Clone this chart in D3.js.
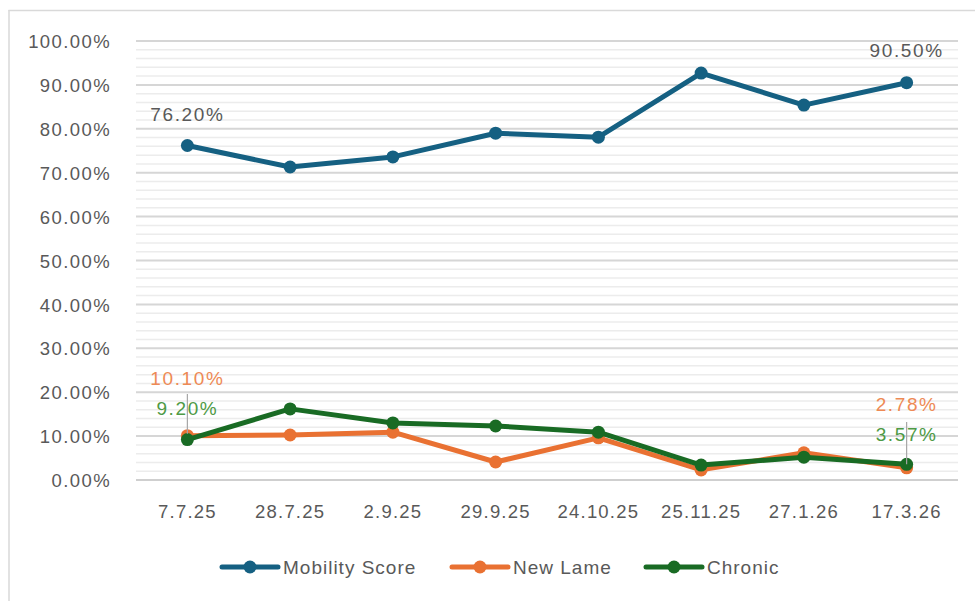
<!DOCTYPE html>
<html><head><meta charset="utf-8">
<script src="https://cdn.jsdelivr.net/npm/d3@7"></script>
<style>body{margin:0;background:#fff}svg{display:block}text{font-family:"Liberation Sans",Arial,sans-serif}</style>
</head><body><svg id="c" width="975" height="601"></svg>
<script>
const categories = ["7.7.25","28.7.25","2.9.25","29.9.25","24.10.25","25.11.25","27.1.26","17.3.26"];
const mobilityScore = [76.2, 71.3, 73.6, 79.0, 78.1, 92.7, 85.4, 90.5];
const newLame = [10.1, 10.25, 10.9, 4.1, 9.6, 2.3, 6.2, 2.78];
const chronic = [9.2, 16.2, 13.0, 12.3, 10.9, 3.4, 5.2, 3.57];
const yTicks = [0,10,20,30,40,50,60,70,80,90,100];
const seriesNames = ["Mobility Score","New Lame","Chronic"];

const svg = d3.select("#c");
const colors = ["#156082","#E97132","#196B24"];
const labelColors = ["#595959","#EE8A55","#4E9A45"];

// frame
svg.append("line").attr("x1",8.5).attr("x2",975).attr("y1",10.5).attr("y2",10.5).attr("stroke","#d9d9d9").attr("stroke-width",1.5);
svg.append("line").attr("x1",9).attr("x2",9).attr("y1",10).attr("y2",601).attr("stroke","#d9d9d9").attr("stroke-width",1.5);

const x = d3.scaleBand().domain(categories).range([136,958]);
const y = d3.scaleLinear().domain([0,100]).range([480,41]);

// minor grid
const minor = d3.range(0,100.001,2).filter(v=>v%10!==0);
svg.append("g").selectAll("line").data(minor).join("line")
  .attr("x1",136).attr("x2",958).attr("y1",d=>y(d)).attr("y2",d=>y(d))
  .attr("stroke","#ececec").attr("stroke-width",1.5);
svg.append("g").selectAll("line").data(yTicks).join("line")
  .attr("x1",136).attr("x2",958).attr("y1",d=>y(d)).attr("y2",d=>y(d))
  .attr("stroke",d=>d===0?"#cfcfcf":"#d6d6d6").attr("stroke-width",2);

// y axis labels
const yAxis = d3.axisLeft(y).tickValues(yTicks).tickFormat(d=>d.toFixed(2)+"%").tickSize(0).tickPadding(0);
const gy = svg.append("g").attr("transform","translate(111,0)").call(yAxis);
gy.select(".domain").remove();
gy.selectAll("text").attr("fill","#595959").style("font-size","18.5px").style("letter-spacing","1.4px").attr("dy","0.36em");

// x axis labels
const xAxis = d3.axisBottom(x).tickSize(0).tickPadding(0);
const gx = svg.append("g").attr("transform","translate(0,505)").call(xAxis);
gx.select(".domain").remove();
gx.selectAll("text").attr("fill","#595959").style("font-size","18.5px").style("letter-spacing","1.2px").attr("dy","0.7em");

const cx = d => x(d) + x.bandwidth()/2;
const all = [mobilityScore,newLame,chronic];
const line = d3.line().x((d,i)=>cx(categories[i])).y(d=>y(d));
[0,1,2].forEach(s=>{
  const g = svg.append("g");
  g.append("path").datum(all[s]).attr("d",line).attr("fill","none")
    .attr("stroke",colors[s]).attr("stroke-width",5).attr("stroke-linejoin","round").attr("stroke-linecap","round");
  g.selectAll("circle").data(all[s]).join("circle")
    .attr("cx",(d,i)=>cx(categories[i])).attr("cy",d=>y(d)).attr("r",6.5).attr("fill",colors[s]);
});

// leader lines
const first = categories[0], last = categories[categories.length-1];
svg.append("line").attr("x1",cx(first)).attr("x2",cx(first)).attr("y1",394).attr("y2",y(newLame[0])-2).attr("stroke","#a6a6a6").attr("stroke-width",1.2);
svg.append("line").attr("x1",cx(last)).attr("x2",cx(last)).attr("y1",422).attr("y2",y(chronic[7])).attr("stroke","#a6a6a6").attr("stroke-width",1.2);

// data labels
const labels = [
  {s:0,i:0,t:"76.20%",yy:114},
  {s:0,i:7,t:"90.50%",yy:50},
  {s:1,i:0,t:"10.10%",yy:378},
  {s:2,i:0,t:"9.20%",yy:408},
  {s:1,i:7,t:"2.78%",yy:404},
  {s:2,i:7,t:"3.57%",yy:434}
];
svg.append("g").selectAll("text").data(labels).join("text")
  .attr("x",d=>cx(categories[d.i])).attr("y",d=>d.yy).attr("dy","0.36em")
  .attr("text-anchor","middle").attr("fill",d=>labelColors[d.s])
  .style("font-size","19px").style("letter-spacing","1.6px")
  .text(d=>d.t);

// legend
const legX = [222,452,646];
const lg = svg.append("g");
seriesNames.forEach((n,s)=>{
  const gx0 = legX[s];
  lg.append("line").attr("x1",gx0).attr("x2",gx0+56).attr("y1",567).attr("y2",567)
    .attr("stroke",colors[s]).attr("stroke-width",5).attr("stroke-linecap","round");
  lg.append("circle").attr("cx",gx0+28).attr("cy",567).attr("r",6.5).attr("fill",colors[s]);
  lg.append("text").attr("x",gx0+61).attr("y",567).attr("dy","0.36em").attr("fill","#595959")
    .style("font-size","19px").style("letter-spacing","1px").text(n);
});
</script></body></html>
